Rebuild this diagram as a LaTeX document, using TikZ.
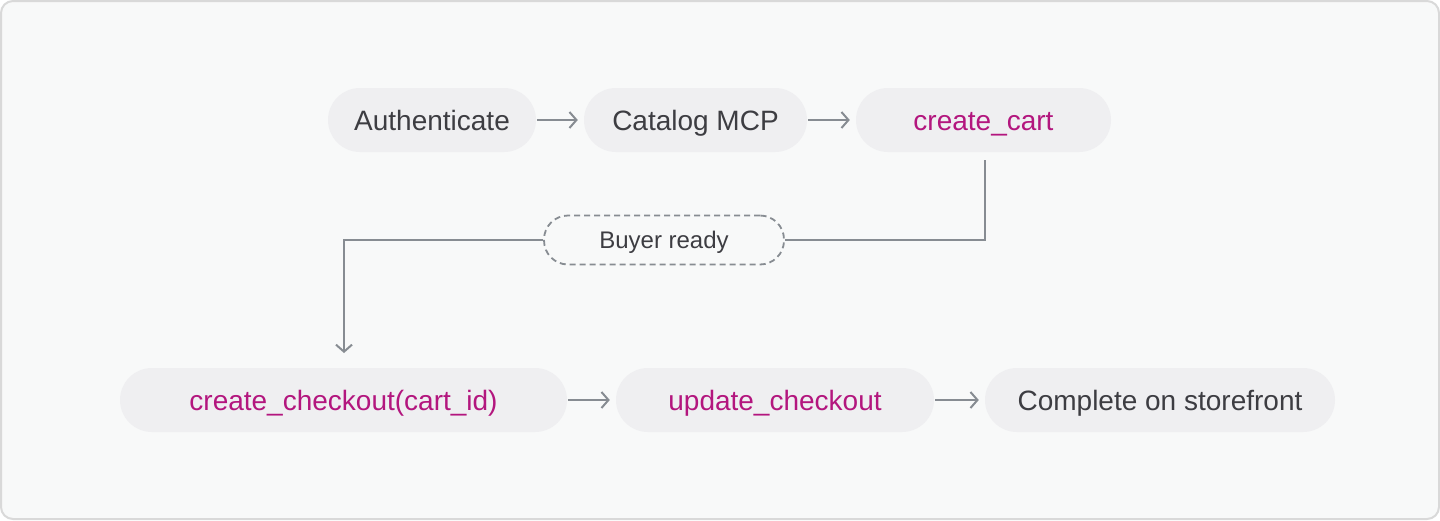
\documentclass[tikz,border=0pt]{standalone}
\usepackage{fontspec}
\setmainfont{Liberation Sans}
\usetikzlibrary{arrows.meta}
\definecolor{bgc}{HTML}{F8F9F9}
\definecolor{framec}{HTML}{D9D9D9}
\definecolor{pillc}{HTML}{EFEFF1}
\definecolor{txtc}{HTML}{3D3D42}
\definecolor{magc}{HTML}{B3167E}
\definecolor{connc}{HTML}{878C92}
\begin{document}
\begin{tikzpicture}[x=1pt,y=-1pt,
  pillbox/.style={rectangle, rounded corners=32pt, fill=pillc, minimum height=64pt,
    inner sep=0pt, text height=20pt, text depth=0pt,
    font=\fontsize{28}{32}\selectfont, text=txtc},
  codebox/.style={pillbox, text=magc},
  tagbox/.style={rectangle, rounded corners=24pt, draw=connc, line width=1.8pt,
    dash pattern=on 6pt off 4pt, minimum height=49pt, minimum width=240pt, inner sep=0pt,
    text height=17pt, text depth=0pt,
    font=\fontsize{24}{28}\selectfont, text=txtc, fill=bgc},
  link/.style={draw=connc, line width=2pt},
  flow/.style={link, -{Straight Barb[length=7pt,width=16pt]}, shorten >=6pt, shorten <=1pt}]
\useasboundingbox (0,0) rectangle (1440,520);
\draw[fill=bgc, draw=framec, line width=2pt, rounded corners=12pt] (1,1) rectangle (1439,519);

\node[pillbox, minimum width=208pt] (auth) at (432,120) {Authenticate};
\node[pillbox, minimum width=223pt] (cat) at (695.5,120) {Catalog MCP};
\node[codebox, minimum width=255pt] (cart) at (983.5,120) {create\_cart};
\node[tagbox] (ready) at (664,240) {Buyer ready};
\node[codebox, minimum width=447pt] (chk) at (343.5,400) {create\_checkout(cart\_id)};
\node[codebox, minimum width=318pt] (upd) at (775,400) {update\_checkout};
\node[pillbox, minimum width=350pt] (done) at (1160,400) {Complete on storefront};

\draw[flow] (auth) -- (cat);
\draw[flow] (cat) -- (cart);
\draw[flow] (chk) -- (upd);
\draw[flow] (upd) -- (done);

\coordinate (c1) at (985,160);
\coordinate (c2) at (344,353);
\draw[link] (c1) |- (ready.east);
\draw[link, -{Straight Barb[length=7pt,width=16pt]}] (ready.west) -| (c2);
\end{tikzpicture}
\end{document}
